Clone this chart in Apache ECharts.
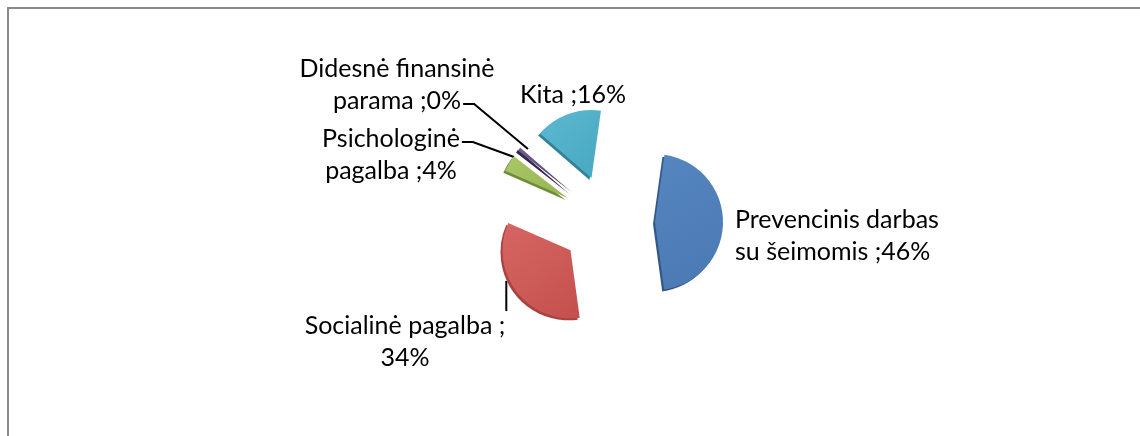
<!DOCTYPE html>
<html>
<head>
<meta charset="utf-8">
<script src="https://cdn.jsdelivr.net/npm/echarts@6/dist/echarts.min.js"></script>
<style>
  html, body { margin: 0; padding: 0; background: #fff; }
  #chart { width: 1140px; height: 436px; }
  .frame {
    position: absolute; left: 7px; top: 7px; width: 1133px; height: 429px;
    border-left: 2px solid #8a8a8a; border-top: 2px solid #8a8a8a;
    box-sizing: border-box; pointer-events: none;
  }
</style>
</head>
<body>
<div class="frame"></div>
<div id="chart"></div>
<script>
var categories = ['Prevencinis darbas su šeimomis', 'Socialinė pagalba', 'Psichologinė pagalba', 'Didesnė finansinė parama', 'Kita']
var values = [46, 34, 4, 0, 16]
// label text as laid out on the picture ({d} = percent)
var labelFormats = [
  'Prevencinis darbas\nsu šeimomis ;{d}%',
  'Socialinė pagalba ;\n{d}%',
  'Psichologinė\npagalba ;{d}%',
  'Didesnė finansinė\nparama ;{d}%',
  'Kita ;{d}%'
]
var colors = [
  ['#5586c0', '#4a78b2', '#34578a'],
  ['#d66663', '#c4504d', '#a84340'],
  ['#a9c766', '#94b552', '#6f8c3a'],
  ['#6f5a8e', '#4f3e6e', '#33264a'],
  ['#5cb8ce', '#47a8c2', '#318399']
]

// label anchors, and the slice end of the leader lines
var labelPlace = [
  { x: 735, y: 236, align: 'left' },
  { x: 405, y: 342, align: 'center', lineFrom: 281, row: 0 },
  { x: 391, y: 155, align: 'center', lineFrom: [514, 157], row: 0 },
  { x: 397, y: 85, align: 'center', lineFrom: [528, 149], row: 1 },
  { x: 573, y: 95, align: 'center' }
]

var fontSize = 25
var lineHeight = 32
var measure = document.createElement('canvas').getContext('2d')
measure.font = fontSize + 'px Lato'
function textWidth(s) { return measure.measureText(s).width }

var chart = echarts.init(document.getElementById('chart'), null, { renderer: 'canvas' })

var pieCenter = [608, 222]
var pieRadius = 68

// exploded slices
var sliceData = categories.map(function (name, i) {
  return {
    name: name,
    value: values[i],
    selected: true,
    itemStyle: {
      color: new echarts.graphic.LinearGradient(0, 0, 1, 1, [
        { offset: 0, color: colors[i][0] },
        { offset: 1, color: colors[i][1] }
      ]),
      shadowColor: colors[i][2],
      shadowBlur: 0,
      shadowOffsetX: -2,
      shadowOffsetY: 2
    }
  }
})

// same values again, only to carry the data labels
var labelData = categories.map(function (name, i) {
  return {
    name: name,
    value: values[i],
    label: { formatter: labelFormats[i] },
    labelLine: { show: labelPlace[i].lineFrom != null }
  }
})

chart.setOption({
  animation: false,
  series: [{
    type: 'pie',
    center: pieCenter,
    radius: pieRadius,
    startAngle: 82,
    minAngle: 3,
    selectedMode: 'multiple',
    selectedOffset: 47,
    silent: true,
    select: { itemStyle: { borderWidth: 0 } },
    label: { show: false },
    labelLine: { show: false },
    data: sliceData
  }, {
    type: 'pie',
    center: pieCenter,
    radius: pieRadius,
    startAngle: 82,
    minAngle: 3,
    percentPrecision: 0,
    silent: true,
    avoidLabelOverlap: false,
    itemStyle: { color: 'rgba(0,0,0,0)' },
    label: {
      show: true,
      position: 'outside',
      color: '#000',
      fontFamily: 'Lato',
      fontSize: fontSize,
      lineHeight: lineHeight
    },
    labelLine: {
      show: true,
      lineStyle: { color: '#000', width: 2 }
    },
    labelLayout: function (params) {
      var i = params.dataIndex
      var p = labelPlace[i]
      var out = { x: p.x, y: p.y, align: p.align, verticalAlign: 'middle' }
      if (p.lineFrom != null) {
        var lines = labelFormats[i].replace('{d}', values[i]).split('\n')
        var right = p.x + textWidth(lines[p.row]) / 2
        var rowY = p.y + (p.row === 0 ? -lineHeight / 2 : lineHeight / 2) + 3
        if (i === 1) {
          // short vertical tick from the slice down to the end of the first line
          var top = p.y - lineHeight + 1
          out.labelLinePoints = [[right + 1, p.lineFrom], [right + 1, (p.lineFrom + top) / 2], [right + 1, top]]
        } else {
          out.labelLinePoints = [p.lineFrom, [right + 13, rowY], [right + 2, rowY]]
        }
      }
      return out
    },
    data: labelData
  }]
})
</script>
</body>
</html>
